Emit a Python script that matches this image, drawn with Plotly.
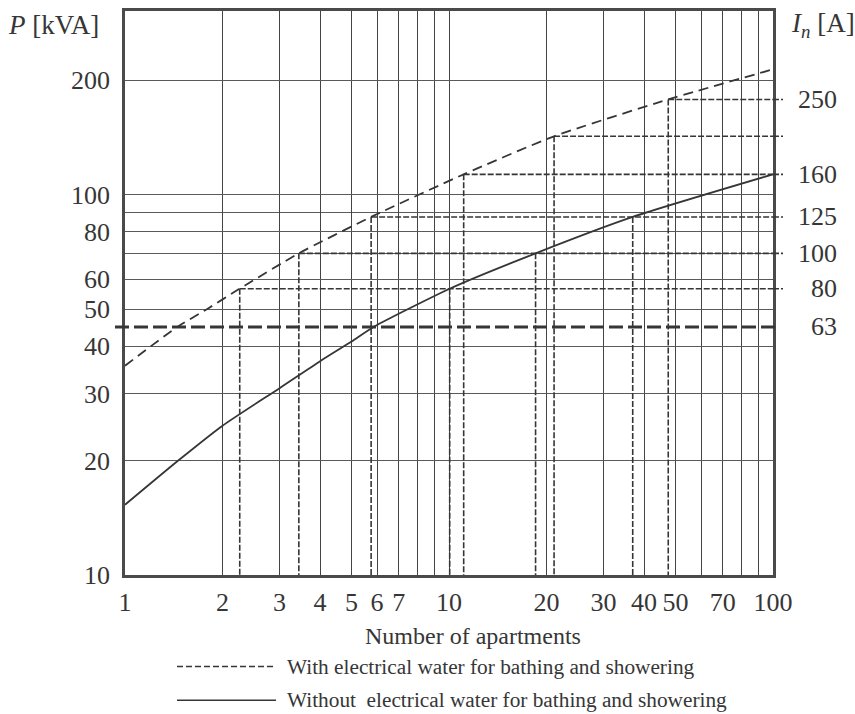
import math
import plotly.graph_objects as go

# ---------------- data ----------------
apartments_with = [1, 1.45, 1.79, 2.26, 3.44, 5.75, 11.1, 21.1, 47.5, 100]
power_with = [35.5, 44.9, 50, 56.6, 70.1, 87.4, 113.1, 142.4, 178, 213.6]

apartments_without = [1, 1.46, 2, 3, 4, 5, 5.85, 10.05, 18.5, 36.9, 100]
power_without = [15.3, 20, 24.7, 31.0, 36.5, 41.1, 44.9, 56.6, 70.1, 87.4, 113.1]

# rated currents In [A] and the corresponding power levels [kVA]
current_labels = ["80", "100", "125", "160", "", "250"]
level_power = [56.6, 70.1, 87.4, 113.1, 142.4, 178]
level_x_with = [2.26, 3.44, 5.75, 11.1, 21.1, 47.5]

drop_x_without = [10.05, 18.5, 36.9]
drop_power_without = [56.6, 70.1, 87.4]

fuse63_label = "63"
fuse63_power = 44.9

x_tickvals = [1, 2, 3, 4, 5, 6, 7, 10, 20, 30, 40, 50, 70, 100]
x_minor_vals = [8, 9, 60, 80, 90]
y_tickvals = [10, 20, 30, 40, 50, 60, 80, 100, 200]
y_minor_vals = [70, 90]

legend_with = "With electrical water for bathing and showering"
legend_without = "Without&nbsp; electrical water for bathing and showering"
x_title = "Number of apartments"

# ---------------- layout geometry ----------------
W, H = 855, 714
L, R, T, B = 125, 82, 8, 139
PW, PH = W - L - R, H - T - B


def px(xp):
    return (xp - L) / PW


def py(yp):
    return (T + PH - yp) / PH


INK = "#363636"
FONT = "Liberation Serif"

fig = go.Figure()

# curves
fig.add_trace(go.Scatter(x=apartments_with, y=power_with, mode="lines",
                         line=dict(color=INK, width=1.8, dash="10px,6px", shape="spline", smoothing=0.6),
                         showlegend=False, hoverinfo="skip"))
fig.add_trace(go.Scatter(x=apartments_without, y=power_without, mode="lines",
                         line=dict(color=INK, width=1.8, shape="spline", smoothing=0.6),
                         showlegend=False, hoverinfo="skip"))

drop_style = dict(color=INK, width=1.6, dash="6px,2px")

# horizontal level lines from the "with" curve to the right edge, and drops down
for xv, pv in zip(level_x_with, level_power):
    fig.add_trace(go.Scatter(x=[xv, 100], y=[pv, pv], mode="lines", line=drop_style,
                             showlegend=False, hoverinfo="skip"))
    fig.add_trace(go.Scatter(x=[xv, xv], y=[pv, 10], mode="lines", line=drop_style,
                             showlegend=False, hoverinfo="skip"))
    fig.add_shape(type="line", xref="paper", yref="y", x0=1.0, x1=px(783), y0=pv, y1=pv,
                  line=drop_style, layer="above")

for xv, pv in zip(drop_x_without, drop_power_without):
    fig.add_trace(go.Scatter(x=[xv, xv], y=[pv, 10], mode="lines", line=drop_style,
                             showlegend=False, hoverinfo="skip"))

# 63 A thick dashed line
fig.add_shape(type="line", xref="paper", yref="y", x0=px(115), x1=px(780),
              y0=fuse63_power, y1=fuse63_power,
              line=dict(color=INK, width=3, dash="14px,5px"), layer="above")

# right-hand current labels
for lab, pv in list(zip(current_labels, level_power)) + [(fuse63_label, fuse63_power)]:
    if lab:
        fig.add_annotation(xref="paper", yref="y", x=px(839), y=math.log10(pv), text=lab,
                           showarrow=False, xanchor="right", yanchor="middle",
                           font=dict(family=FONT, size=26, color=INK))

# axis unit labels
fig.add_annotation(xref="paper", yref="paper", x=px(6), y=py(22), text="<i>P</i> [kVA]",
                   showarrow=False, xanchor="left", yanchor="middle",
                   font=dict(family=FONT, size=27, color=INK))
fig.add_annotation(xref="paper", yref="paper", x=px(789), y=py(22), text="<i>I</i><sub><i>n</i></sub> [A]",
                   showarrow=False, xanchor="left", yanchor="middle",
                   font=dict(family=FONT, size=27, color=INK))

# x title
fig.add_annotation(xref="paper", yref="paper", x=px(473), y=py(636), text=x_title,
                   showarrow=False, xanchor="center", yanchor="middle",
                   font=dict(family=FONT, size=24, color=INK))

# legend
fig.add_shape(type="line", xref="paper", yref="paper", x0=px(177), x1=px(276), y0=py(667), y1=py(667),
              line=dict(color=INK, width=1.5, dash="6px,3px"))
fig.add_shape(type="line", xref="paper", yref="paper", x0=px(177), x1=px(276), y0=py(701), y1=py(701),
              line=dict(color=INK, width=1.5))
fig.add_annotation(xref="paper", yref="paper", x=px(285), y=py(667), text=legend_with,
                   showarrow=False, xanchor="left", yanchor="middle",
                   font=dict(family=FONT, size=21.3, color=INK))
fig.add_annotation(xref="paper", yref="paper", x=px(285), y=py(701), text=legend_without,
                   showarrow=False, xanchor="left", yanchor="middle",
                   font=dict(family=FONT, size=21.3, color=INK))

fig.update_layout(
    width=W, height=H,
    margin=dict(l=L, r=R, t=T, b=B, pad=0),
    paper_bgcolor="white", plot_bgcolor="white",
    showlegend=False,
    hovermode=False,
    xaxis=dict(type="log", range=[0, 2], tickmode="array", tickvals=x_tickvals,
               ticktext=[str(v) for v in x_tickvals],
               showgrid=True, gridcolor="#444444", gridwidth=1,
               minor=dict(tickmode="array", tickvals=x_minor_vals, showgrid=True,
                          gridcolor="#444444", gridwidth=1, ticks=""),
               showline=True, linecolor="#4a4a4a", linewidth=2.5, mirror=True,
               ticks="", ticklabelstandoff=2, zeroline=False,
               tickfont=dict(family=FONT, size=26, color=INK)),
    yaxis=dict(type="log", range=[1, 2.483], tickmode="array", tickvals=y_tickvals,
               ticktext=[str(v) for v in y_tickvals],
               showgrid=True, gridcolor="#5a5a5a", gridwidth=1,
               minor=dict(tickmode="array", tickvals=y_minor_vals, showgrid=True,
                          gridcolor="#5a5a5a", gridwidth=1, ticks=""),
               showline=True, linecolor="#4a4a4a", linewidth=2.5, mirror=True,
               ticks="", ticklabelstandoff=7, zeroline=False,
               tickfont=dict(family=FONT, size=26, color=INK)),
)

fig.write_html("out.html",
               config={"displayModeBar": False},
               post_script="document.body.style.margin='0px';document.body.style.overflow='hidden';")
